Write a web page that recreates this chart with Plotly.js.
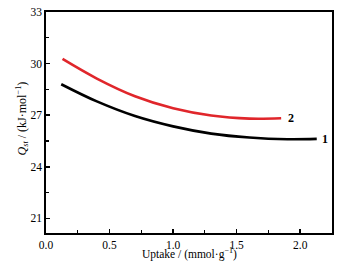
<!DOCTYPE html>
<html><head><meta charset="utf-8">
<script src="https://cdn.plot.ly/plotly-3.0.1.min.js"></script>
<style>html,body{margin:0;padding:0;background:#fff}#c{width:344px;height:263px}</style>
</head><body><div id="c"></div>
<script>
const x1 = [0.12, 0.4, 0.7, 1.0, 1.3, 1.6, 1.9, 2.13];
const y1 = [28.8, 27.8, 26.95, 26.35, 25.93, 25.7, 25.6, 25.62];
const x2 = [0.13, 0.4, 0.7, 1.0, 1.3, 1.6, 1.85];
const y2 = [30.27, 29.13, 28.1, 27.4, 26.98, 26.8, 26.82];
const seriesLabels = ['1', '2'];
const xTitle = 'Uptake / (mmol·g<sup>−1</sup>)';
const yTitle = '<i>Q</i><sub><i>st</i></sub> / (kJ·mol<sup>−1</sup>)';
const font = {family: 'Liberation Serif, Times New Roman, serif', color: '#000'};
const traces = [
  {x: x1, y: y1, mode: 'lines', line: {color: '#000', width: 2.6, shape: 'spline', smoothing: 1}, hoverinfo: 'skip'},
  {x: x2, y: y2, mode: 'lines', line: {color: '#e0262b', width: 2.6, shape: 'spline', smoothing: 1}, hoverinfo: 'skip'}
];
const ax = {showgrid: false, zeroline: false, showline: true, mirror: true, linecolor: '#000', linewidth: 1.8,
  ticks: 'inside', ticklen: 4, tickwidth: 1.5, tickcolor: '#000', tickfont: Object.assign({size: 11.5}, font)};
const layout = {
  width: 344, height: 263, margin: {l: 46, r: 12, t: 12, b: 30},
  paper_bgcolor: '#fff', plot_bgcolor: '#fff', showlegend: false,
  xaxis: Object.assign({}, ax, {range: [0, 2.25], dtick: 0.5, tickformat: '.1f',
    minor: {dtick: 0.25, ticks: 'inside', ticklen: 3, tickcolor: '#000', tickwidth: 1.2}}),
  yaxis: Object.assign({}, ax, {range: [20.15, 33], tickvals: [21, 24, 27, 30, 33],
    minor: {tickvals: [22.5, 25.5, 28.5, 31.5], ticks: 'inside', ticklen: 3, tickcolor: '#000', tickwidth: 1.2}}),
  annotations: [
    {x: x1[x1.length - 1], y: y1[y1.length - 1], text: '<b>' + seriesLabels[0] + '</b>', showarrow: false, xanchor: 'left', xshift: 3, font: Object.assign({size: 12}, font)},
    {x: x2[x2.length - 1], y: y2[y2.length - 1], text: '<b>' + seriesLabels[1] + '</b>', showarrow: false, xanchor: 'left', xshift: 5, font: Object.assign({size: 12}, font)},
    {xref: 'paper', yref: 'paper', x: 0.5, y: 0, yanchor: 'bottom', yshift: -30, text: xTitle, showarrow: false, font: Object.assign({size: 11.5}, font)},
    {xref: 'paper', yref: 'paper', x: 0, y: 0.5, xanchor: 'center', yanchor: 'middle', xshift: -24, yshift: 4, textangle: -90, text: yTitle, showarrow: false, font: Object.assign({size: 12}, font)}
  ]
};
Plotly.newPlot('c', traces, layout, {displayModeBar: false, staticPlot: true});
</script></body></html>
